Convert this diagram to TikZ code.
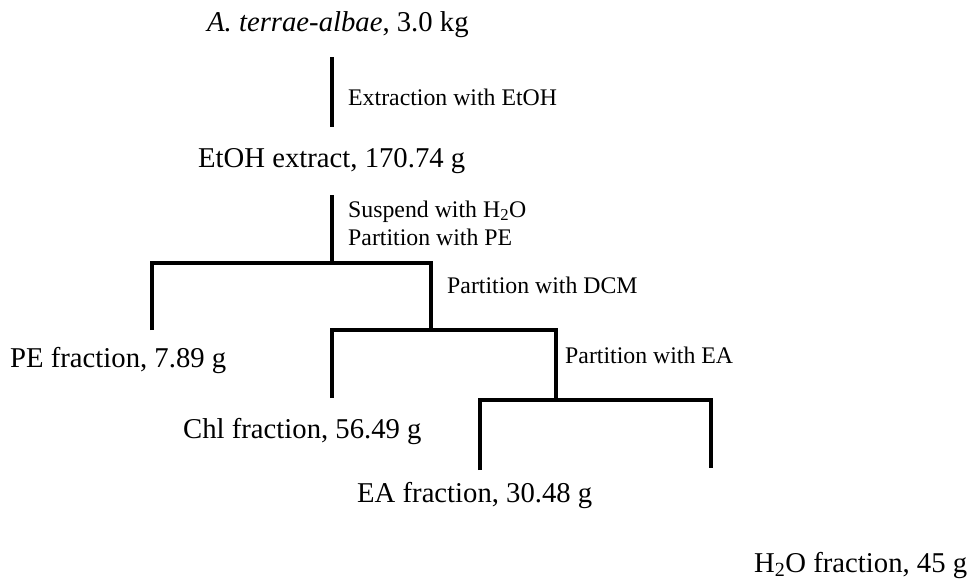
\documentclass[tikz,border=0pt]{standalone}
\usepackage{fontspec}
\setmainfont{Liberation Serif}
\begin{document}
\begin{tikzpicture}[x=1pt,y=-1pt,
  big/.style={anchor=base west,inner sep=0pt,font=\fontsize{28.7}{34}\selectfont},
  small/.style={anchor=base west,inner sep=0pt,font=\fontsize{23.8}{28}\selectfont,align=left},
  link/.style={line width=3.3pt,line cap=butt,line join=miter}]
\useasboundingbox (0,0) rectangle (969,581);
% texts
\node[big] (src) at (207,31) {\textit{A. terrae-albae}, 3.0 kg};
\node[big] (etoh) at (198,167) {EtOH extract, 170.74 g};
\node[big] (pe) at (10,367) {PE fraction, 7.89 g};
\node[big] (chl) at (183,438) {Chl fraction, 56.49 g};
\node[big] (ea) at (357,502) {EA fraction, 30.48 g};
\node[big] (h2o) at (754,572) {H\textsubscript{2}O fraction, 45 g};
\node[small] (l1) at (348,105) {Extraction with EtOH};
\node[small] (l2a) at (348,217) {Suspend with H\textsubscript{2}O};
\node[small] (l2b) at (348,245) {Partition with PE};
\node[small] (l3) at (447,293) {Partition with DCM};
\node[small] (l4) at (565,363) {Partition with EA};
% junction coordinates
\coordinate (a1) at (332,57);
\coordinate (a2) at (332,127);
\coordinate (b1) at (332,195);
\coordinate (b2) at (332,263);
\coordinate (hl) at (152,263);
\coordinate (hr) at (431,263);
\coordinate (hld) at (152,330);
\coordinate (hrd) at (431,330);
\coordinate (c1) at (332,330);
\coordinate (c2) at (556,330);
\coordinate (c1d) at (332,398);
\coordinate (c2d) at (556,400);
\coordinate (d1) at (480,400);
\coordinate (d2) at (711,400);
\coordinate (d1d) at (480,470);
\coordinate (d2d) at (711,468);
% connectors
\draw[link] (a1) -- (a2);
\draw[link] (b1) -- (b2);
\draw[link] (hld) -- (hl) -- (hr) -- (hrd);
\draw[link] (c1d) -- (c1) -- (c2) -- (c2d);
\draw[link] (d1d) -- (d1) -- (d2) -- (d2d);
\end{tikzpicture}
\end{document}
